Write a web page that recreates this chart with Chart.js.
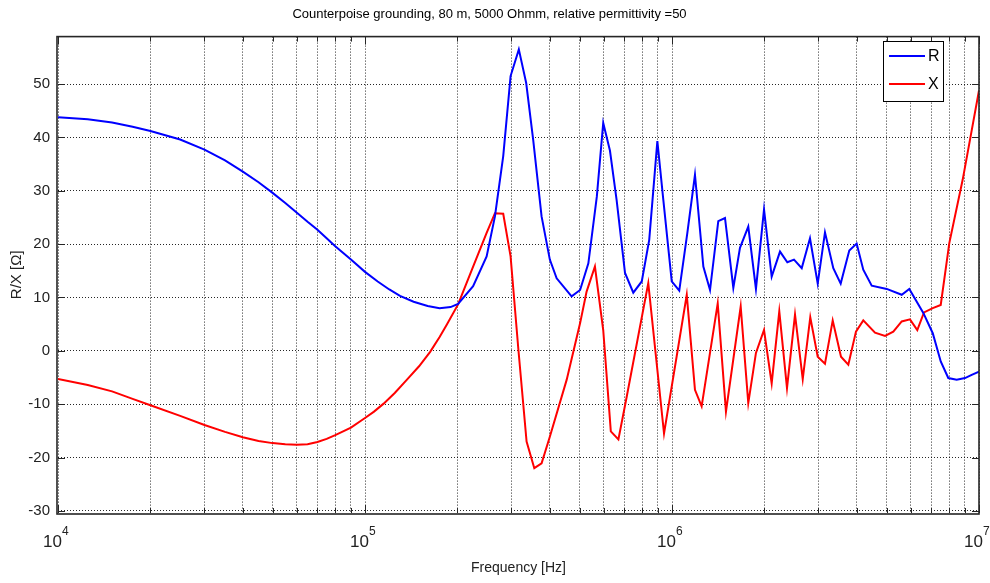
<!DOCTYPE html>
<html>
<head>
<meta charset="utf-8">
<script src="https://cdn.jsdelivr.net/npm/chart.js@4.4.1/dist/chart.umd.min.js"></script>
<style>
  html, body { margin: 0; padding: 0; background: #fff; }
</style>
</head>
<body>
<canvas id="impedanceChart" width="990" height="583"></canvas>
<script>
// values
const rFreq = [1e4, 1.25e4, 1.5e4, 1.75e4, 2e4, 2.5e4, 3e4, 3.5e4, 4e4, 4.5e4, 5e4, 5.5e4, 6e4, 6.5e4, 7e4, 7.5e4, 8e4, 9e4,
  1e5, 1.1e5, 1.2e5, 1.3e5, 1.44e5, 1.6e5, 1.75e5, 1.9e5, 2.01e5,
  2.25e5, 2.49e5, 2.65e5, 2.82e5, 2.98e5, 3.17e5, 3.35e5, 3.53e5, 3.76e5, 4.0e5, 4.21e5, 4.71e5, 5.02e5, 5.34e5, 5.69e5,
  5.97e5, 6.28e5, 6.6e5, 7.03e5, 7.48e5, 7.97e5, 8.43e5, 8.96e5, 9.37e5, 9.98e5, 1.056e6, 1.122e6, 1.188e6, 1.265e6,
  1.33e6, 1.415e6, 1.488e6, 1.584e6, 1.665e6, 1.772e6, 1.877e6, 1.994e6, 2.112e6, 2.248e6, 2.375e6, 2.497e6, 2.646e6,
  2.815e6, 2.983e6, 3.15e6, 3.353e6, 3.544e6, 3.78e6, 3.995e6, 4.198e6, 4.472e6, 5.005e6, 5.601e6, 5.929e6, 6.586e6,
  7.069e6, 7.505e6, 7.943e6, 8.46e6, 9.004e6, 9.467e6, 1e7];
const rValues = [43.8, 43.4, 42.8, 42.0, 41.2, 39.6, 37.7, 35.7, 33.6, 31.6, 29.6, 27.7, 25.9, 24.2, 22.7, 21.1, 19.6, 17.1,
  14.8, 13.0, 11.5, 10.3, 9.2, 8.4, 8.0, 8.2, 8.8,
  12.1, 17.7, 25.2, 36.5, 51.5, 56.5, 50.2, 39.6, 25.2, 17.1, 13.6, 10.2, 11.4, 16.4, 28.9,
  42.7, 37.5, 28.3, 14.6, 10.9, 13.0, 20.8, 39.3, 28.3, 13.0, 11.3, 22.1, 33.0, 15.8,
  11.4, 24.3, 24.9, 11.8, 19.3, 23.3, 11.6, 26.5, 13.9, 18.6, 16.6, 17.1, 15.5,
  21.1, 12.6, 22.2, 15.5, 12.6, 18.8, 20.1, 15.2, 12.2, 11.6, 10.5, 11.6, 7.1,
  3.3, -2.0, -5.1, -5.4, -5.1, -4.5, -3.9];

const xFreq = [1e4, 1.25e4, 1.5e4, 1.75e4, 2e4, 2.5e4, 3e4, 3.5e4, 4e4, 4.5e4, 5e4, 5.5e4, 6e4, 6.5e4, 7e4, 7.5e4, 8e4, 9e4,
  1e5, 1.07e5, 1.15e5, 1.25e5, 1.37e5, 1.5e5, 1.63e5, 1.75e5, 1.85e5, 2.01e5,
  2.25e5, 2.49e5, 2.65e5, 2.82e5, 2.98e5, 3.16e5, 3.36e5, 3.56e5, 3.76e5, 4.0e5, 4.54e5, 5.02e5, 5.27e5, 5.61e5,
  5.97e5, 6.32e5, 6.69e5, 7.12e5, 8.37e5, 9.42e5, 1.117e6, 1.188e6, 1.249e6, 1.409e6, 1.499e6, 1.674e6, 1.772e6,
  1.877e6, 1.994e6, 2.112e6, 2.236e6, 2.369e6, 2.516e6, 2.666e6, 2.821e6, 2.983e6, 3.15e6, 3.338e6, 3.552e6,
  3.753e6, 3.974e6, 4.198e6, 4.584e6, 4.942e6, 5.258e6, 5.601e6, 5.959e6, 6.295e6, 6.62e6, 7.069e6, 7.505e6,
  8.003e6, 8.85e6, 1e7];
const xValues = [-5.3, -6.4, -7.6, -9.0, -10.2, -12.2, -13.9, -15.2, -16.2, -16.9, -17.3, -17.5, -17.6, -17.5, -17.1, -16.5, -15.8, -14.4,
  -12.6, -11.4, -9.9, -7.9, -5.4, -2.9, -0.2, 2.6, 5.0, 8.7,
  15.8, 22.1, 25.8, 25.7, 17.7, 0.2, -17.0, -22.0, -21.1, -16.1, -5.4, 5.2, 11.1, 15.8,
  3.9, -15.1, -16.6, -8.6, 12.7, -15.5, 10.5, -7.3, -10.4, 8.9, -11.4, 8.3, -9.8,
  -0.4, 3.9, -6.1, 7.4, -7.0, 6.8, -5.3, 6.3, -1.1, -2.4, 5.7, -1.1,
  -2.6, 3.6, 5.7, 3.4, 2.8, 3.6, 5.5, 5.9, 3.9, 7.2, 8.0, 8.6,
  20.2, 32.1, 48.8];

const seriesLabels = ["R", "X"];
const yTickValues = [-30, -20, -10, 0, 10, 20, 30, 40, 50];
const xDecades = [1e4, 1e5, 1e6, 1e7];
const xTickBase = "10";
const xTickExponents = ["4", "5", "6", "7"];

const FONT = "'Liberation Sans', Arial, sans-serif";

// grid / tick positions: 1..9 in every decade
const gridFreqs = [];
xDecades.slice(0, -1).forEach(d => {
  for (let k = 1; k <= 9; k++) gridFreqs.push(d * k);
});
gridFreqs.push(xDecades[xDecades.length - 1]);

function isDecade(v) {
  return xDecades.findIndex(d => Math.abs(Math.log10(v) - Math.log10(d)) < 1e-6);
}

// box around the axes with inward tick marks, like matlab
const framePlugin = {
  id: "frame",
  afterDatasetsDraw(chart) {
    const { ctx, chartArea: a, scales } = chart;
    ctx.save();
    ctx.strokeStyle = "#262626";
    ctx.lineWidth = 1;
    gridFreqs.forEach(f => {
      const x = Math.round(scales.x.getPixelForValue(f)) + 0.5;
      const len = isDecade(f) >= 0 ? 8 : 5;
      ctx.beginPath();
      ctx.moveTo(x, a.bottom); ctx.lineTo(x, a.bottom - len);
      ctx.moveTo(x, a.top); ctx.lineTo(x, a.top + len);
      ctx.stroke();
    });
    yTickValues.forEach(v => {
      const y = Math.round(scales.y.getPixelForValue(v)) + 0.5;
      ctx.beginPath();
      ctx.moveTo(a.left, y); ctx.lineTo(a.left + 7, y);
      ctx.moveTo(a.right, y); ctx.lineTo(a.right - 7, y);
      ctx.stroke();
    });
    ctx.lineWidth = 1.6;
    ctx.strokeRect(a.left - 1, a.top, a.right - a.left + 1, a.bottom - a.top + 1);

    // decade labels with raised exponent
    ctx.fillStyle = "#222";
    ctx.textBaseline = "alphabetic";
    xDecades.forEach((d, i) => {
      const x = scales.x.getPixelForValue(d);
      ctx.font = "17px " + FONT;
      ctx.textAlign = "right";
      ctx.fillText(xTickBase, x + 4, a.bottom + 34);
      ctx.font = "12px " + FONT;
      ctx.textAlign = "left";
      ctx.fillText(xTickExponents[i], x + 4, a.bottom + 22);
    });
    ctx.restore();
  }
};

const legendPlugin = {
  id: "boxLegend",
  afterDraw(chart) {
    const { ctx } = chart;
    const bx = 883, by = 41, bw = 60, bh = 60;
    ctx.save();
    ctx.fillStyle = "#fff";
    ctx.fillRect(bx, by, bw, bh);
    ctx.strokeStyle = "#000";
    ctx.lineWidth = 1;
    ctx.strokeRect(bx + 0.5, by + 0.5, bw, bh);
    chart.data.datasets.forEach((ds, i) => {
      const y = by + 15 + i * 28;
      ctx.strokeStyle = ds.borderColor;
      ctx.lineWidth = 2;
      ctx.beginPath();
      ctx.moveTo(bx + 6, y); ctx.lineTo(bx + 42, y);
      ctx.stroke();
      ctx.fillStyle = "#000";
      ctx.font = "16px " + FONT;
      ctx.textBaseline = "middle";
      ctx.fillText(ds.label, bx + 45, y + 1);
    });
    ctx.restore();
  }
};

const canvas = document.getElementById("impedanceChart");

new Chart(canvas, {
  type: "line",
  data: {
    datasets: [
      {
        label: seriesLabels[0],
        data: rFreq.map((f, i) => ({ x: f, y: rValues[i] })),
        borderColor: "#0000ff",
        borderWidth: 2,
        pointRadius: 0,
        tension: 0,
        fill: false
      },
      {
        label: seriesLabels[1],
        data: xFreq.map((f, i) => ({ x: f, y: xValues[i] })),
        borderColor: "#ff0000",
        borderWidth: 2,
        pointRadius: 0,
        tension: 0,
        fill: false
      }
    ]
  },
  options: {
    responsive: false,
    animation: false,
    layout: { padding: { left: 0, right: 11, top: 0, bottom: 0 } },
    plugins: {
      legend: { display: false },
      tooltip: { enabled: false },
      title: {
        display: true,
        text: "Counterpoise grounding, 80 m, 5000 Ohmm, relative permittivity =50",
        color: "#000",
        font: { family: FONT, size: 13, weight: "normal" },
        padding: { top: 7, bottom: 14 }
      }
    },
    scales: {
      x: {
        type: "logarithmic",
        min: xDecades[0],
        max: xDecades[xDecades.length - 1],
        afterBuildTicks: s => { s.ticks = gridFreqs.map(v => ({ value: v })); },
        afterFit: s => { s.height = 70; s.paddingLeft = 0; s.paddingRight = 0; },
        ticks: {
          autoSkip: false,
          maxRotation: 0,
          callback: () => ""
        },
        grid: { color: "rgba(0,0,0,0.85)", lineWidth: 1, drawTicks: false },
        border: { display: false, dash: [1, 2] },
        title: {
          display: true,
          text: "Frequency [Hz]",
          color: "#222",
          font: { family: FONT, size: 14 },
          padding: { top: 4, bottom: 6 }
        }
      },
      y: {
        min: -30.4,
        max: 58.9,
        afterBuildTicks: s => { s.ticks = yTickValues.map(v => ({ value: v })); },
        afterFit: s => { s.width = 58; },
        ticks: {
          padding: 8,
          color: "#222",
          font: { family: FONT, size: 15 }
        },
        grid: { color: "rgba(0,0,0,0.85)", lineWidth: 1, drawTicks: false },
        border: { display: false, dash: [1, 2] },
        title: {
          display: true,
          text: "R/X [\u03A9]",
          color: "#222",
          font: { family: FONT, size: 15 },
          padding: { top: 8, bottom: 4 }
        }
      }
    }
  },
  plugins: [framePlugin, legendPlugin]
});
</script>
</body>
</html>
